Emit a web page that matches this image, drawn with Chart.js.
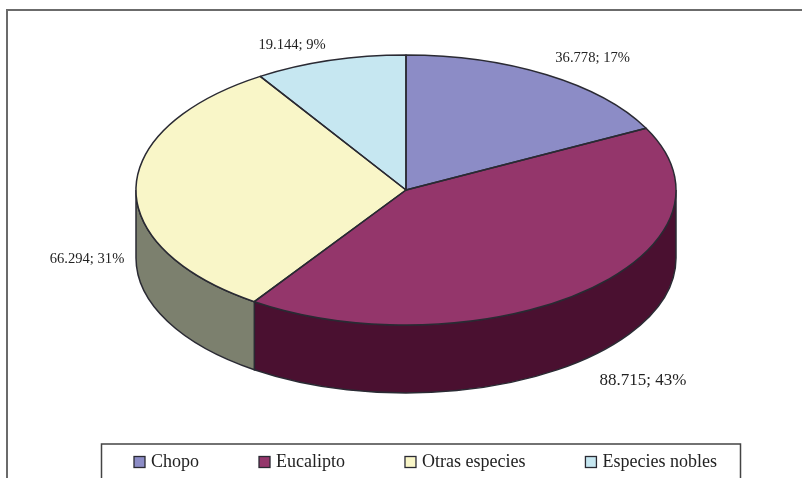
<!DOCTYPE html>
<html><head><meta charset="utf-8">
<style>html,body{margin:0;padding:0;background:#fff;overflow:hidden}canvas{display:block;filter:blur(.4px)}</style>
<script src="https://cdn.jsdelivr.net/npm/chart.js@4"></script></head>
<body><canvas id="c" width="802" height="478"></canvas>
<script>
const categories = ["Chopo","Eucalipto","Otras especies","Especies nobles"];
const values = [36778,88715,66294,19144];
const percents = [17,43,31,9];
const topColors = ["#8c8cc6","#94366b","#f9f6c8","#c6e7f1"];
const sideColors = ["#46466a","#4a1030","#7c806e","#63737a"];
const labelOffsets = [[46,-17],[58,89],[-49,71],[-38,-15]];
const labelSizes = [14.6,17,14.6,14.6];

const FONT = '"Liberation Serif", serif';
const EDGE = '#2a2a33';
const SQUASH = 0.5, DEPTH = 68;
const fmt = v => String(v).replace(/\B(?=(\d{3})+$)/g,'.');

const squash = (ctx,a) => { ctx.translate(a.x,a.y); ctx.scale(1,SQUASH); };

const pie3d = {
  id:'pie3d',
  beforeDraw(chart){
    const ctx = chart.ctx;
    ctx.save();
    ctx.fillStyle='#fff'; ctx.fillRect(0,0,chart.width,chart.height);
    ctx.strokeStyle='#6b6b6b'; ctx.lineWidth=2;
    ctx.beginPath(); ctx.moveTo(7,chart.height); ctx.lineTo(7,10); ctx.lineTo(chart.width,10); ctx.stroke();
    ctx.restore();
  },
  beforeDatasetsDraw(chart){
    const ctx = chart.ctx, arcs = chart.getDatasetMeta(0).data;
    // extruded wall: only the part of each slice facing the viewer
    arcs.forEach((a,i)=>{
      const s=Math.max(a.startAngle,0), e=Math.min(a.endAngle,Math.PI);
      if(e<=s) return;
      ctx.save();
      ctx.beginPath();
      ctx.save(); squash(ctx,a); ctx.arc(0,0,a.outerRadius,s,e); ctx.restore();
      ctx.save(); ctx.translate(0,DEPTH); squash(ctx,a); ctx.arc(0,0,a.outerRadius,e,s,true); ctx.restore();
      ctx.closePath();
      ctx.fillStyle=sideColors[i]; ctx.fill();
      ctx.strokeStyle=EDGE; ctx.lineWidth=1.5; ctx.stroke();
      ctx.restore();
    });
    ctx.save();
    const a0=arcs[0];
    ctx.translate(a0.x,a0.y); ctx.scale(1,SQUASH); ctx.translate(-a0.x,-a0.y);
  },
  afterDatasetsDraw(chart){
    const ctx = chart.ctx, arcs = chart.getDatasetMeta(0).data;
    ctx.restore();
    arcs.forEach(a=>{
      ctx.save();
      ctx.beginPath();
      ctx.save(); squash(ctx,a);
      ctx.moveTo(0,0); ctx.arc(0,0,a.outerRadius,a.startAngle,a.endAngle); ctx.closePath();
      ctx.restore();
      ctx.strokeStyle=EDGE; ctx.lineWidth=1.5; ctx.lineJoin='round'; ctx.stroke();
      ctx.restore();
    });
    // data labels
    ctx.save();
    ctx.fillStyle='#222'; ctx.textAlign='center'; ctx.textBaseline='middle';
    arcs.forEach((a,i)=>{
      const m=(a.startAngle+a.endAngle)/2;
      const x=a.x+Math.cos(m)*a.outerRadius+labelOffsets[i][0];
      const y=a.y+Math.sin(m)*a.outerRadius*SQUASH+labelOffsets[i][1];
      ctx.font=labelSizes[i]+'px '+FONT;
      ctx.fillText(fmt(values[i])+'; '+percents[i]+'%',x,y);
    });
    ctx.restore();
    // legend box
    ctx.save();
    ctx.fillStyle='#fff'; ctx.strokeStyle='#444'; ctx.lineWidth=1.5;
    ctx.beginPath(); ctx.rect(101.5,444,639,60); ctx.fill(); ctx.stroke();
    ctx.font='18px '+FONT; ctx.textBaseline='middle'; ctx.textAlign='left';
    let x=134;
    categories.forEach((c,i)=>{
      ctx.fillStyle=topColors[i]; ctx.fillRect(x,456.5,11,11);
      ctx.strokeStyle='#2a2a33'; ctx.lineWidth=1.3; ctx.strokeRect(x,456.5,11,11);
      ctx.fillStyle='#222'; ctx.fillText(c,x+17,462);
      x+=17+ctx.measureText(c).width+60;
    });
    ctx.restore();
  }
};

new Chart(document.getElementById('c'),{
  type:'pie',
  data:{labels:categories,datasets:[{data:values,backgroundColor:topColors,borderWidth:0,clip:false}]},
  options:{
    responsive:false,animation:false,radius:270,
    layout:{padding:{left:10,bottom:98}},
    plugins:{legend:{display:false},tooltip:{enabled:false}}
  },
  plugins:[pie3d]
});
</script></body></html>
